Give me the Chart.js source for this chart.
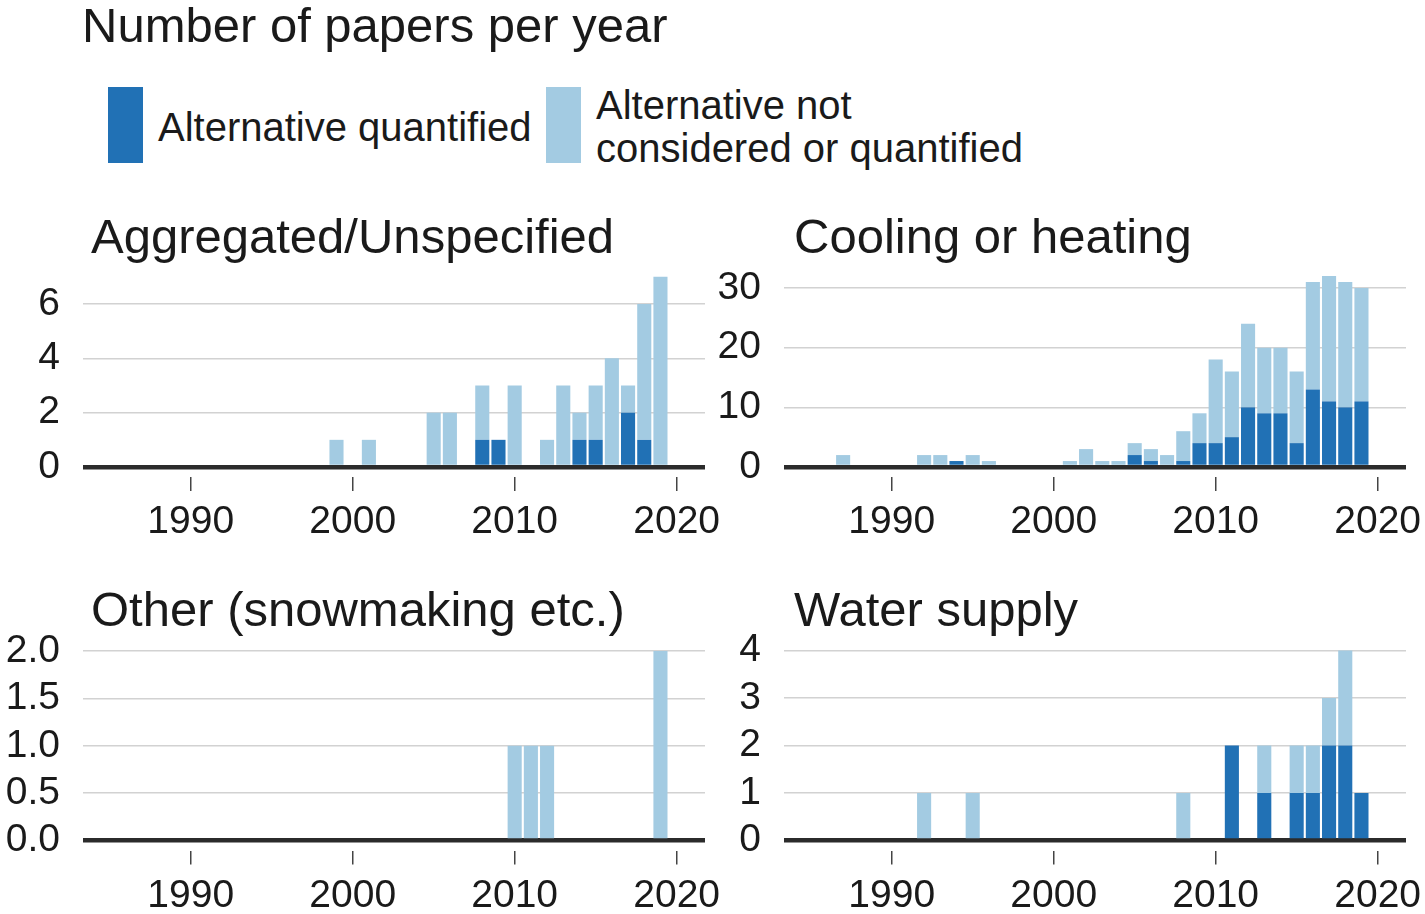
<!DOCTYPE html>
<html>
<head>
<meta charset="utf-8">
<title>Number of papers per year</title>
<script src="https://cdn.jsdelivr.net/npm/chart.js@4.4.1/dist/chart.umd.min.js"></script>
<style>
  body { margin: 0; background: #fff; font-family: "Liberation Sans", Arial, sans-serif; color: #1a1a1a; }
  #page { position: relative; width: 1425px; height: 914px; overflow: hidden; }
  .txt { position: absolute; white-space: nowrap; line-height: 1; }
  .box { position: absolute; width: 35px; height: 76px; top: 87px; }
  .panel { position: absolute; }
</style>
</head>
<body>
<div id="page">
  <div class="txt" style="left:82px; top:1px; font-size:49px;">Number of papers per year</div>

  <div class="box" style="left:108px; background:#2171b5;"></div>
  <div class="txt" style="left:158px; top:107px; font-size:40px;">Alternative quantified</div>
  <div class="box" style="left:546px; background:#a3cbe2;"></div>
  <div class="txt" style="left:596px; top:85px; font-size:40px;">Alternative not</div>
  <div class="txt" style="left:596px; top:128px; font-size:40px;">considered or quantified</div>

  <div class="txt" style="left:91px; top:212px; font-size:49px;">Aggregated/Unspecified</div>
  <div class="txt" style="left:794px; top:212px; font-size:49px;">Cooling or heating</div>
  <div class="txt" style="left:91px; top:585px; font-size:49px;">Other (snowmaking etc.)</div>
  <div class="txt" style="left:794px; top:585px; font-size:49px;">Water supply</div>

  <div class="panel" id="p1"><canvas id="c1"></canvas></div>
  <div class="panel" id="p2"><canvas id="c2"></canvas></div>
  <div class="panel" id="p3"><canvas id="c3"></canvas></div>
  <div class="panel" id="p4"><canvas id="c4"></canvas></div>
</div>

<script>
// years 1987 .. 2019
const years = [1987, 1988, 1989, 1990, 1991, 1992, 1993, 1994, 1995, 1996,
               1997, 1998, 1999, 2000, 2001, 2002, 2003, 2004, 2005, 2006,
               2007, 2008, 2009, 2010, 2011, 2012, 2013, 2014, 2015, 2016,
               2017, 2018, 2019];
const tickYears = [1990, 2000, 2010, 2020];

const seriesNames = ["Alternative quantified", "Alternative not considered or quantified"];

// Aggregated/Unspecified
const aggQuant = [0,0,0,0,0, 0,0,0,0,0, 0,0,0,0,0, 0,0,0,0,0, 0,1,1,0,0, 0,0,1,1,0, 2,1,0];
const aggNot   = [0,0,0,0,0, 0,0,0,0,0, 0,0,1,0,1, 0,0,0,2,2, 0,2,0,3,0, 1,3,1,2,4, 1,5,7];
const aggTicks = [0, 2, 4, 6];

// Cooling or heating
const coolQuant = [0,0,0,0,0, 0,0,1,0,0, 0,0,0,0,0, 0,0,0,2,1, 0,1,4,4,5, 10,9,9,4,13, 11,10,11];
const coolNot   = [2,0,0,0,0, 2,2,0,2,1, 0,0,0,0,1, 3,1,1,2,2, 2,5,5,14,11, 14,11,11,12,18, 21,21,19];
const coolTicks = [0, 10, 20, 30];

// Other (snowmaking etc.)
const otherQuant = [0,0,0,0,0, 0,0,0,0,0, 0,0,0,0,0, 0,0,0,0,0, 0,0,0,0,0, 0,0,0,0,0, 0,0,0];
const otherNot   = [0,0,0,0,0, 0,0,0,0,0, 0,0,0,0,0, 0,0,0,0,0, 0,0,0,1,1, 1,0,0,0,0, 0,0,2];
const otherTicks = [0, 0.5, 1.0, 1.5, 2.0];

// Water supply
const waterQuant = [0,0,0,0,0, 0,0,0,0,0, 0,0,0,0,0, 0,0,0,0,0, 0,0,0,0,2, 0,1,0,1,1, 2,2,1];
const waterNot   = [0,0,0,0,0, 1,0,0,1,0, 0,0,0,0,0, 0,0,0,0,0, 0,1,0,0,0, 0,1,0,1,1, 1,2,0];
const waterTicks = [0, 1, 2, 3, 4];

const DARK = '#2171b5';
const LIGHT = '#a3cbe2';
const FONT = '"Liberation Sans", Arial, sans-serif';

function makePanel(id, canvasId, box, area, zeroY, refY, refVal, yTicks, decimals, quant, notQuant) {
  const el = document.getElementById(id);
  el.style.left = box.left + 'px';
  el.style.top = box.top + 'px';
  el.style.width = box.width + 'px';
  el.style.height = box.height + 'px';

  const ppu = (zeroY - refY) / refVal;
  const yMax = (zeroY - area.top) / ppu;
  const yMin = -(area.bottom - zeroY) / ppu;

  new Chart(document.getElementById(canvasId), {
    type: 'bar',
    data: {
      datasets: [
        { label: seriesNames[0], data: years.map((yr, i) => ({ x: yr, y: quant[i] })),
          backgroundColor: DARK, borderWidth: 0, barPercentage: 0.87, categoryPercentage: 1 },
        { label: seriesNames[1], data: years.map((yr, i) => ({ x: yr, y: notQuant[i] })),
          backgroundColor: LIGHT, borderWidth: 0, barPercentage: 0.87, categoryPercentage: 1 },
      ],
    },
    options: {
      responsive: true,
      maintainAspectRatio: false,
      animation: false,
      layout: {
        padding: { top: area.top - box.top, right: box.left + box.width - area.right, left: 0, bottom: 0 },
      },
      plugins: {
        legend: { display: false },
        tooltip: { enabled: false },
      },
      scales: {
        x: {
          type: 'linear',
          stacked: true,
          offset: false,
          min: 1983.35,
          max: 2021.75,
          afterBuildTicks: s => { s.ticks = tickYears.map(v => ({ value: v })); },
          afterFit: s => {
            s.height = box.top + box.height - area.bottom;
            s.paddingLeft = 0;
            s.paddingRight = 0;
          },
          grid: { offset: false, drawOnChartArea: false, drawTicks: true, tickLength: 14, color: '#444', lineWidth: 1.5 },
          border: { display: false },
          ticks: {
            font: { size: 39, family: FONT }, color: '#1a1a1a', padding: 8,
            maxRotation: 0, autoSkip: false, callback: v => String(v),
          },
        },
        y: {
          stacked: true,
          min: yMin,
          max: yMax,
          afterBuildTicks: s => { s.ticks = yTicks.map(v => ({ value: v })); },
          afterFit: s => {
            s.width = area.left - box.left;
            s.paddingTop = 0;
            s.paddingBottom = 0;
          },
          grid: {
            drawTicks: false,
            color: ctx => (ctx.tick && ctx.tick.value === 0 ? '#2b2b2b' : '#d2d2d2'),
            lineWidth: ctx => (ctx.tick && ctx.tick.value === 0 ? 4.5 : 1.5),
          },
          border: { display: false },
          ticks: {
            font: { size: 39, family: FONT }, color: '#1a1a1a', padding: 23,
            callback: v => Number(v).toFixed(decimals),
          },
        },
      },
    },
  });
}

makePanel('p1', 'c1', { left: 0, top: 262, width: 722, height: 288 },
  { left: 83, right: 705, top: 270, bottom: 477 }, 467, 304, 6, aggTicks, 0, aggQuant, aggNot);
makePanel('p2', 'c2', { left: 710, top: 262, width: 715, height: 288 },
  { left: 784, right: 1406, top: 270, bottom: 477 }, 467, 288, 30, coolTicks, 0, coolQuant, coolNot);
makePanel('p3', 'c3', { left: 0, top: 628, width: 722, height: 286 },
  { left: 83, right: 705, top: 645, bottom: 850.5 }, 840.5, 651, 2, otherTicks, 1, otherQuant, otherNot);
makePanel('p4', 'c4', { left: 710, top: 628, width: 715, height: 286 },
  { left: 784, right: 1406, top: 645, bottom: 850.5 }, 840.5, 650.5, 4, waterTicks, 0, waterQuant, waterNot);
</script>
</body>
</html>
